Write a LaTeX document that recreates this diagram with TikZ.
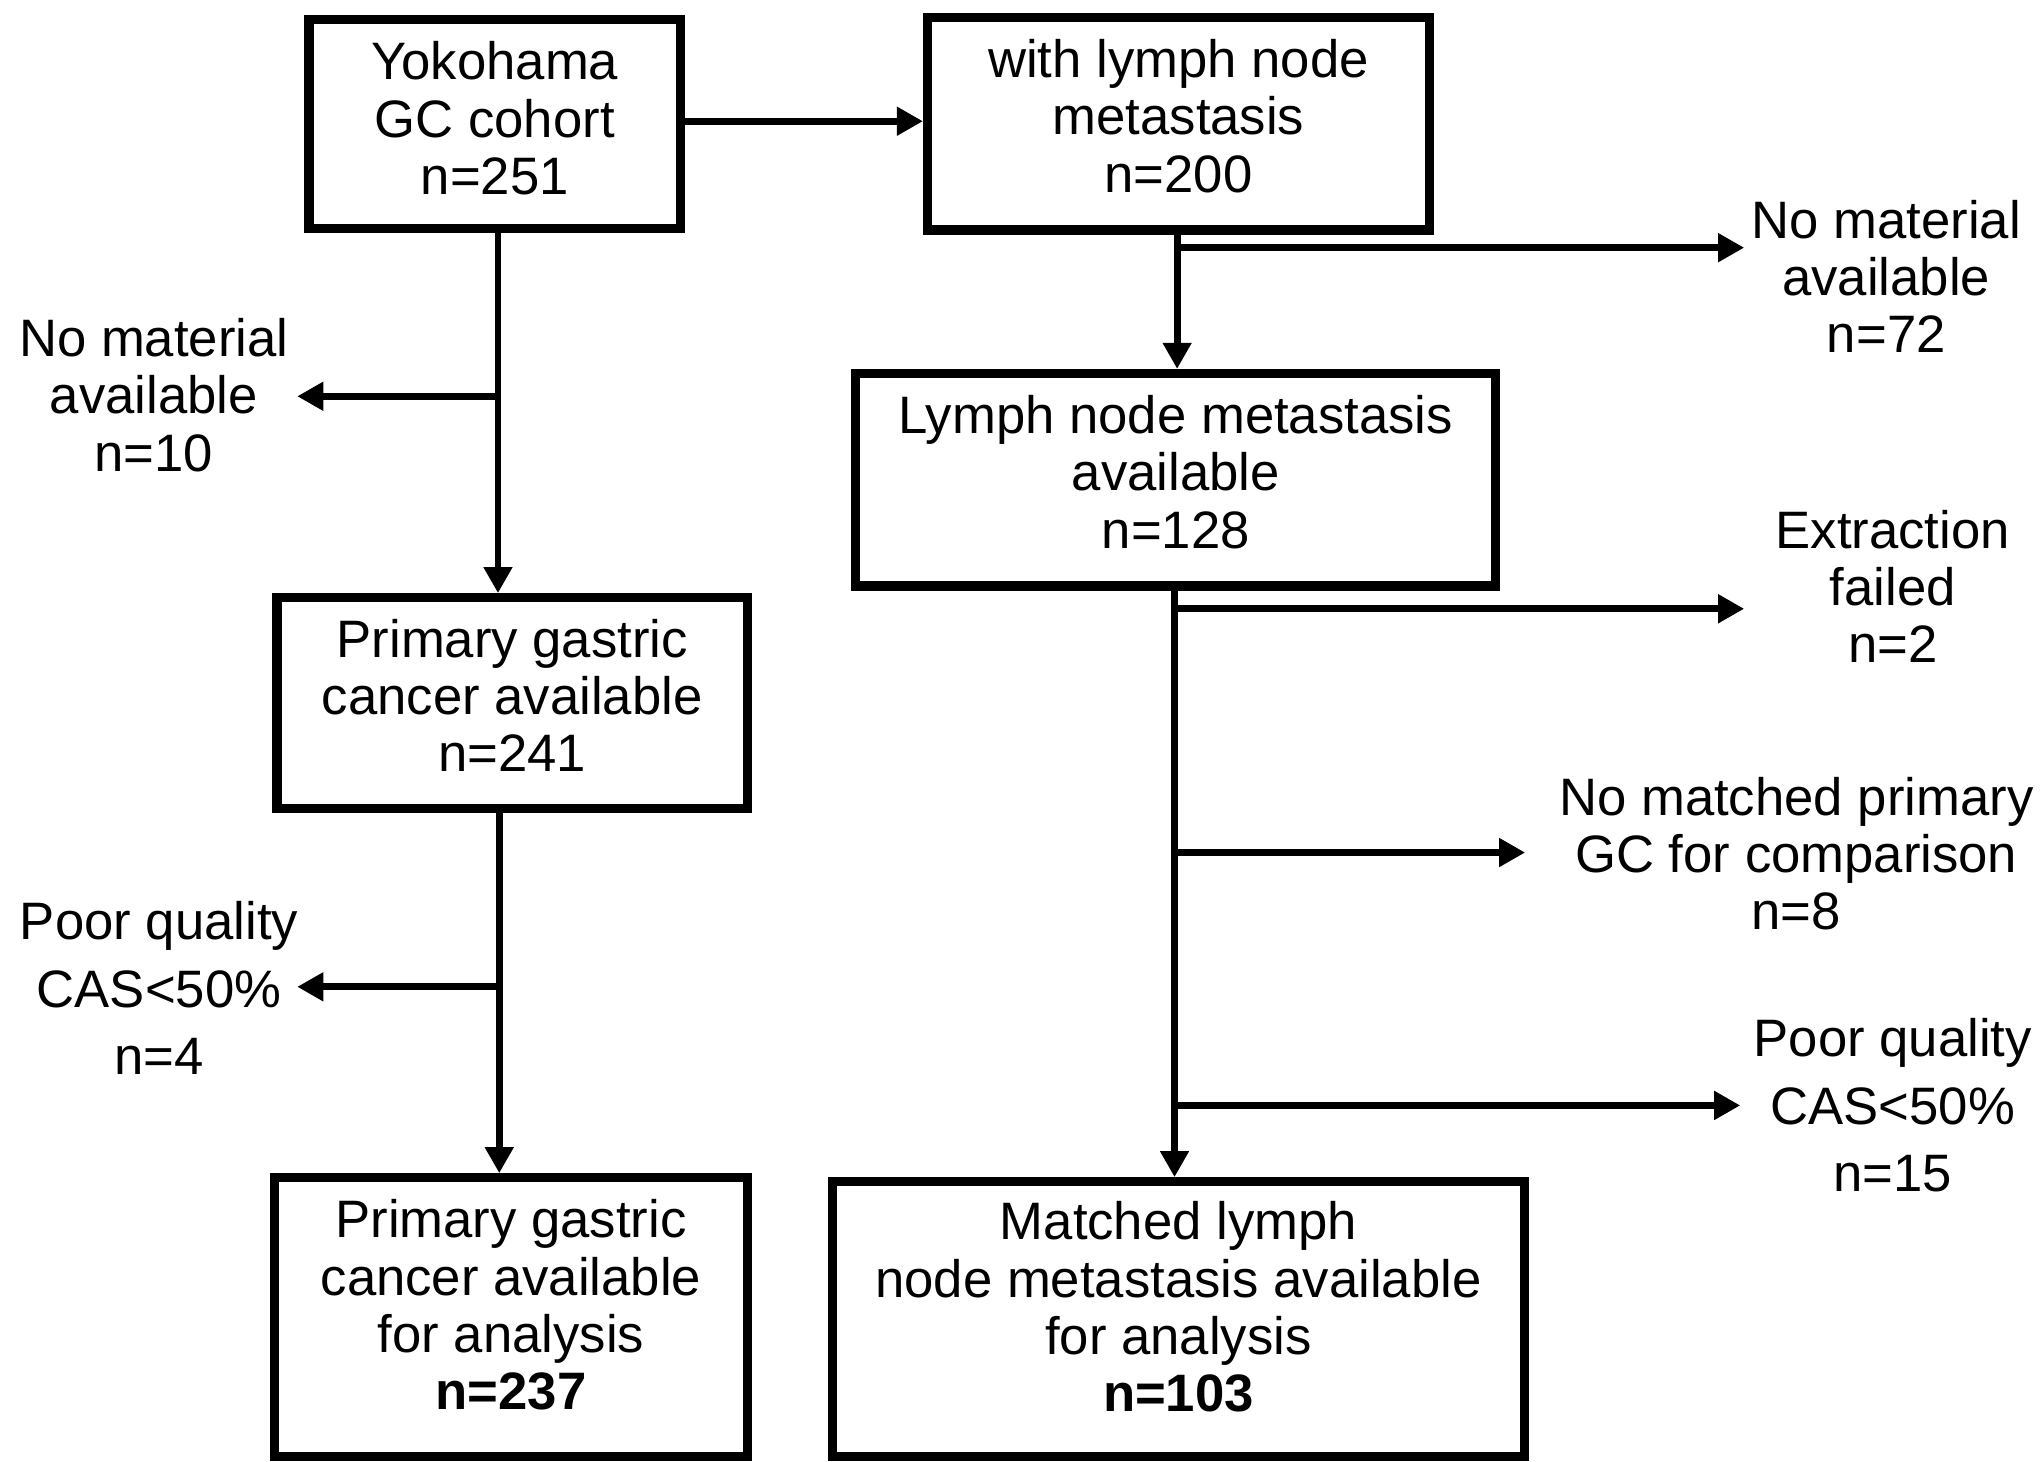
\documentclass[tikz,border=0pt]{standalone}
\usepackage{fontspec}
\setmainfont{Liberation Sans}
\usetikzlibrary{arrows.meta}

\begin{document}
\begin{tikzpicture}[x=0.02cm,y=-0.02cm,
    >={Triangle[length=0.4cm,width=0.42cm]},
    box/.style={draw,line width=4pt,inner sep=0pt,align=center,text depth=7pt,font=\fontsize{23}{25}\selectfont},
    lbl/.style={align=center,inner sep=0pt,font=\fontsize{23}{25}\selectfont},
    arr/.style={->,line width=3pt}]
  \useasboundingbox (0,0) rectangle (1568,1121);
  % boxes
  \node[box,minimum width=5.7cm,minimum height=3.2cm,text depth=5pt] (cohort) at (379.5,95) {Yokohama\\GC cohort\\n=251};
  \node[box,minimum width=7.7cm,minimum height=3.26cm] (withlnm) at (904,95) {with lymph node\\metastasis\\n=200};
  \node[box,minimum width=9.82cm,minimum height=3.26cm] (lnm) at (902,368) {Lymph node metastasis\\available\\n=128};
  \node[box,minimum width=7.22cm,minimum height=3.24cm] (primary) at (393,539.5) {Primary gastric\\cancer available\\n=241};
  \node[box,minimum width=7.26cm,minimum height=4.28cm,text depth=11pt] (primfin) at (392,1010.5) {Primary gastric\\cancer available\\for analysis\\\textbf{n=237}};
  \node[box,minimum width=10.62cm,minimum height=4.22cm,text depth=11pt] (matched) at (904,1012) {Matched lymph\\node metastasis available\\for analysis\\\textbf{n=103}};
  % side labels
  \node[lbl] (nomat10) at (118,303) {No material\\available\\n=10};
  \node[lbl,font=\fontsize{23}{29.5}\selectfont] (poor4) at (122,758) {Poor quality\\CAS<50\%\\n=4};
  \node[lbl] (nomat72) at (1447,212) {No material\\available\\n=72};
  \node[lbl] (failed) at (1452,450) {Extraction\\failed\\n=2};
  \node[lbl] (nomatch) at (1378,655) {No matched primary\\GC for comparison\\n=8};
  \node[lbl,font=\fontsize{23}{29.5}\selectfont] (poor15) at (1452,848) {Poor quality\\CAS<50\%\\n=15};
  % branch points and arrow ends
  \coordinate (b1) at (382,304);
  \coordinate (t1) at (228,304);
  \coordinate (b2) at (383,757);
  \coordinate (t2) at (228,757);
  \coordinate (b3) at (903,190);
  \coordinate (t3) at (1338,190);
  \coordinate (b4) at (901,467);
  \coordinate (t4) at (1338,467);
  \coordinate (b5) at (901,654);
  \coordinate (t5) at (1170,654);
  \coordinate (b6) at (901,848);
  \coordinate (t6) at (1335,848);
  % connectors
  \draw[arr] (cohort.east |- 0,93) -- (withlnm.west |- 0,93);
  \draw[arr] (cohort.south -| b1) -- (b1 |- primary.north);
  \draw[arr] (primary.south -| b2) -- (b2 |- primfin.north);
  \draw[arr] (withlnm.south -| b3) -- (b3 |- lnm.north);
  \draw[arr] (lnm.south -| b4) -- (b4 |- matched.north);
  \draw[arr] (b1) -- (t1);
  \draw[arr] (b2) -- (t2);
  \draw[arr] (b3) -- (t3);
  \draw[arr] (b4) -- (t4);
  \draw[arr] (b5) -- (t5);
  \draw[arr] (b6) -- (t6);
\end{tikzpicture}
\end{document}
